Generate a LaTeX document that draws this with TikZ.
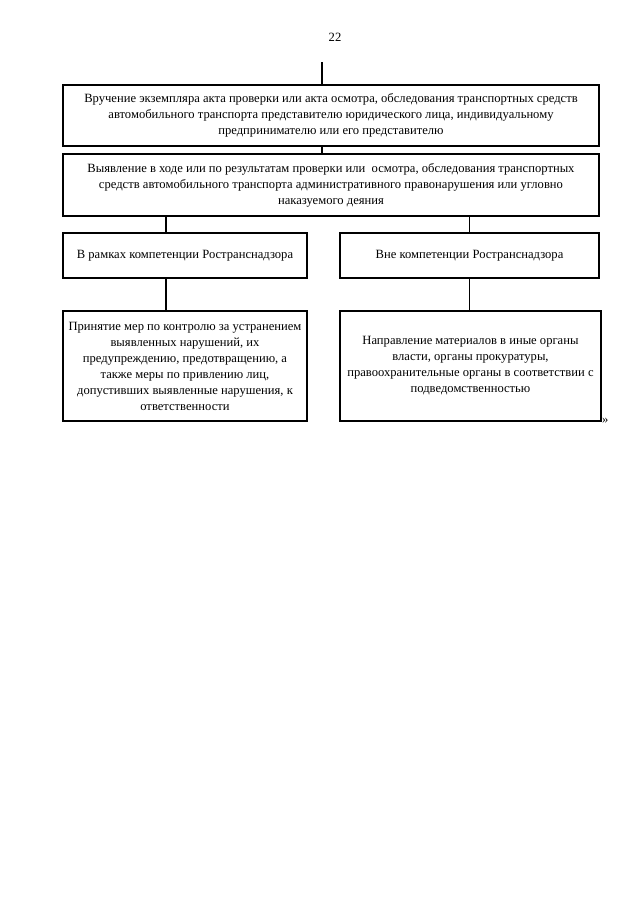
\documentclass[tikz,border=0pt]{standalone}
\usepackage{fontspec}
\setmainfont{Liberation Serif}
\begin{document}
\begin{tikzpicture}[x=1pt,y=-1pt,
  every node/.style={font=\fontsize{12.6}{16}\selectfont},
  box/.style={draw=black, line width=1.2pt, align=center, inner sep=0pt, anchor=center},
  conn/.style={draw=black, line width=1.2pt}]
\useasboundingbox[fill=white] (0,0) rectangle (640,905);
\node (pg) at (335,37) {22};
\coordinate (top) at (322,62);
\coordinate (lx) at (166,0);
\node[box, minimum width=536pt, minimum height=61pt] (b1) at (331,115.5)
  {Вручение экземпляра акта проверки или акта осмотра, обследования транспортных средств\\
   автомобильного транспорта представителю юридического лица, индивидуальному\\
   предпринимателю или его представителю};
\node[box, minimum width=536pt, minimum height=62pt] (b2) at (331,185)
  {Выявление в ходе или по результатам проверки или\ \ осмотра, обследования транспортных\\
   средств автомобильного транспорта административного правонарушения или угловно\\
   наказуемого деяния};
\node[box, minimum width=244pt, minimum height=45pt] (b3l) at (185,255.5)
  {В рамках компетенции Ространснадзора};
\node[box, minimum width=259pt, minimum height=45pt] (b3r) at (469.5,255.5)
  {Вне компетенции Ространснадзора};
\node[box, minimum width=244pt, minimum height=110pt] (b4l) at (185,366)
  {Принятие мер по контролю за устранением\\
   выявленных нарушений, их\\
   предупреждению, предотвращению, а\\
   также меры по привлению лиц,\\
   допустивших выявленные нарушения, к\\
   ответственности};
\node[box, minimum width=261pt, minimum height=110pt] (b4r) at (470.5,366)
  {Направление материалов в иные органы\\
   власти, органы прокуратуры,\\
   правоохранительные органы в соответствии с\\
   подведомственностью};
\node[anchor=base west, inner sep=0pt] (q) at (602,423) {»};
\draw[conn] (top) -- (top |- b1.north);
\draw[conn] (b1.south -| top) -- (b2.north -| top);
\draw[conn] (b2.south -| lx) -- (b3l.north -| lx);
\draw[conn] (b2.south -| b3r.north) -- (b3r.north);
\draw[conn] (b3l.south -| lx) -- (b4l.north -| lx);
\draw[conn] (b3r.south) -- (b4r.north -| b3r.south);
\end{tikzpicture}
\end{document}
